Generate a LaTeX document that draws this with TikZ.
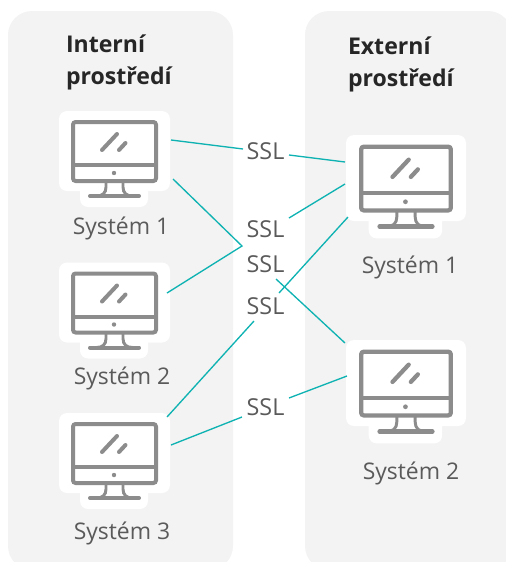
\documentclass[tikz,border=0pt]{standalone}
\usepackage{fontspec}
\setmainfont{Open Sans}
\usetikzlibrary{calc}

\definecolor{panelgray}{HTML}{F3F3F3}
\definecolor{icongray}{HTML}{8C8C8C}
\definecolor{linkteal}{HTML}{0FB2B2}
\definecolor{textgray}{HTML}{5A5A5A}

\tikzset{
	panel/.style={fill=panelgray,rounded corners=18pt},
	iconbox/.style 2 args={fill=white,rounded corners=6pt,inner sep=0,outer sep=0,minimum width=#1*0.75pt,minimum height=#2*0.75pt},
	title/.style={anchor=base west,align=left,inner sep=0,outer sep=0,font=\fontsize{17.3}{24}\selectfont\bfseries,text=black!85},
	syslabel/.style={anchor=base,inner sep=0,outer sep=0,font=\fontsize{17.2}{21}\selectfont,text=textgray},
	ssllabel/.style={anchor=base,inner sep=0,outer sep=0,font=\fontsize{17.5}{21}\selectfont,text=textgray},
	link/.style={draw=linkteal,line width=1pt},
	pics/monitor/.style={code={
		\fill [white,rounded corners=6pt] (-34.5,30) rectangle (33.5,56);
		\draw [icongray,rounded corners=2pt] (-41.5,-29) rectangle (41.5,30);
		\draw [icongray] (-41.5,14) -- (41.5,14);
		\fill [icongray] (-0.5,22) circle [radius=2.2];
		\draw [icongray,line cap=round] (-24.5,45) -- (24.5,45);
		\draw [icongray,line width=2.2pt] (-8.5,30) -- (-8.5,36) .. controls (-8.5,42) and (-12,45) .. (-18,45);
		\draw [icongray,line width=2.2pt] (8.5,30) -- (8.5,36) .. controls (8.5,42) and (12,45) .. (18,45);
		\draw [icongray,line cap=round] (-12.5,-1) -- (2.5,-17);
		\draw [icongray,line cap=round] (4.5,-1) -- (11,-8);
	}}
}

\begin{document}
\begin{tikzpicture}[x=0.75pt,y=-0.75pt,line width=3pt]

\useasboundingbox (0,0) rectangle (506,562);

% panels
\fill [panel] (8,11) rectangle (233,570);
\fill [panel] (305,11) rectangle (512,570);

\node [title] (titleInt) at (66,84) {Interní\\prostředí};
\node [title] (titleExt) at (348,86) {Externí\\prostředí};

% monitors
\foreach \name/\x/\y in {intA/114.5/151, intB/114.5/302.5, intC/114.5/453} {
	\node [iconbox={111}{80}] (\name) at (\x,\y) {};
	\pic at (\x,\y) {monitor};
}
\foreach \name/\x/\y in {extA/406/178, extB/406/383} {
	\node [iconbox={120}{86}] (\name) at (\x,\y) {};
	\pic [scale=1.08,line width=3.2pt] at (\x,\y) {monitor};
}

\node [syslabel] (sysA) at (121,234) {Systém 1};
\node [syslabel] (sysB) at (122,384) {Systém 2};
\node [syslabel] (sysC) at (122,539) {Systém 3};
\node [syslabel] (sysD) at (410,273) {Systém 1};
\node [syslabel] (sysE) at (411,479) {Systém 2};

\foreach \name/\y in {sslA/159, sslB/237, sslC/272, sslD/314, sslE/415} {
	\node [ssllabel] (\name) at (265.5,\y) {SSL};
}

\coordinate (hub) at (242,246);

% links
\draw [link] ($(intA.east)+(1,-11)$) -- ($(sslA.base)+(-22.5,-10)$);
\draw [link] ($(sslA.base)+(23.5,-4)$) -- ($(extA.west)+(-1,-16)$);
\draw [link] ($(intA.east)+(3,28)$) -- (hub) -- ($(intB.east)+(-3,-9.5)$);
\draw [link] ($(sslB.base)+(23.5,-19)$) -- ($(extA.west)+(-1,6)$);
\draw [link] ($(extA.west)+(2,39)$) -- ($(sslD.base)+(13.5,-21)$);
\draw [link] ($(sslC.base)+(10.5,7)$) -- ($(extB.west)+(-1,-40)$);
\draw [link] ($(intC.east)+(-3,-36)$) -- ($(sslD.base)+(-11.5,7)$);
\draw [link] ($(intC.east)+(1,-8)$) -- ($(sslE.base)+(-23.5,2)$);
\draw [link] ($(sslE.base)+(23.5,-17)$) -- ($(extB.west)+(1,-7)$);

\end{tikzpicture}
\end{document}
